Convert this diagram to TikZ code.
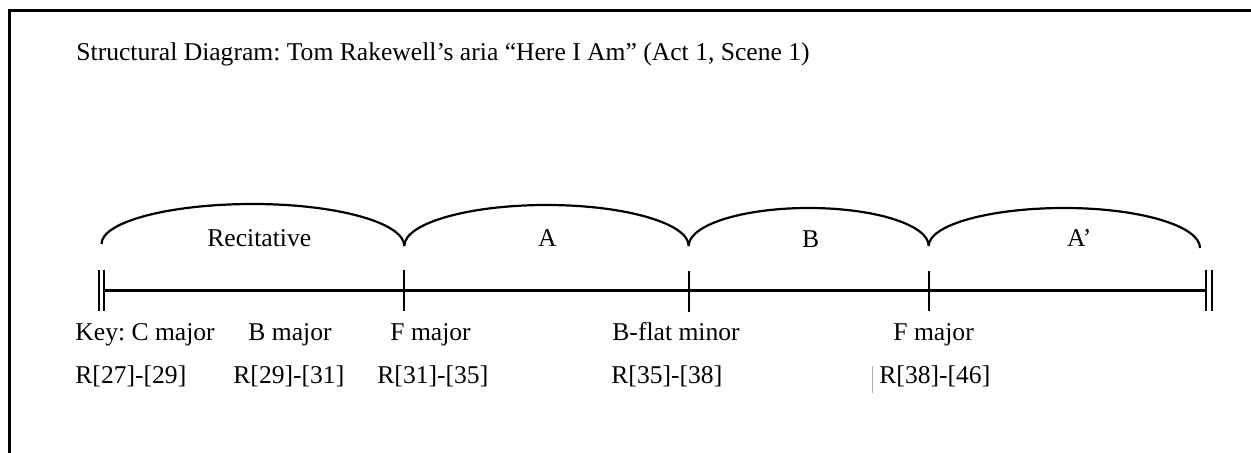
\documentclass[tikz,border=0pt]{standalone}
\usepackage{fontspec}
\setmainfont{Liberation Serif}
\frenchspacing
\begin{document}
\begin{tikzpicture}[x=0.5pt,y=-0.5pt,
  frame/.style={line width=1.4pt},
  rule/.style={line width=1.1pt},
  brace/.style={line width=1.1pt},
  lbl/.style={inner sep=0pt,anchor=base west,font=\fontsize{12.8}{15}\selectfont}]
\useasboundingbox (0,0) rectangle (1251,453);

% frame (top and left edges)
\draw[frame] (9.3,453) -- (9.3,10.7) -- (1251,10.7);

% title
\node[lbl] (title) at (76,61) {Structural Diagram: Tom Rakewell’s aria “Here I Am” (Act 1, Scene 1)};

% time line with section marks
\coordinate (s0) at (104,290.5);
\coordinate (s1) at (404.3,290.5);
\coordinate (s2) at (688.7,290.5);
\coordinate (s3) at (928.7,290.5);
\coordinate (s4) at (1206,290.5);
\draw[rule] (s0) -- (s1) -- (s2) -- (s3) -- (s4);
\draw[rule] (99,270) -- (99,311) (104,270) -- (104,311);
\draw[rule] (1206,270) -- (1206,311.5) (1212,270) -- (1212,311.5);
\draw[rule] (404.3,270) -- (404.3,311);
\draw[rule] (688.7,271.5) -- (688.7,312.5);
\draw[rule] (928.7,271) -- (928.7,311);

% section arcs
\coordinate (a0) at (101.5,244);
\coordinate (a1) at (404.3,246);
\coordinate (a2) at (688.7,246);
\coordinate (a3) at (928.7,246);
\coordinate (a4) at (1200,248);
\draw[brace] (a0) .. controls (101.5,221.9) and (169.3,204) .. (252.9,204)
                  .. controls (336.5,204) and (404.3,222.8) .. (a1);
\draw[brace] (a1) .. controls (404.3,223.4) and (468,205) .. (546.5,205)
                  .. controls (625,205) and (688.7,223.4) .. (a2);
\draw[brace] (a2) .. controls (688.7,225) and (742.4,208) .. (808.7,208)
                  .. controls (875,208) and (928.7,225) .. (a3);
\draw[brace] (a3) .. controls (928.7,225) and (989.5,208) .. (1064.4,208)
                  .. controls (1139.3,208) and (1200,225.9) .. (a4);

% section names
\node[lbl] (rec) at (207,247) {Recitative};
\node[lbl] (secA) at (537.7,247) {A};
\node[lbl] (secB) at (801.7,247.5) {B};
\node[lbl] (secA2) at (1066.7,247) {A’};

% keys
\node[lbl] (k1) at (75,341) {Key: C major};
\node[lbl] (k2) at (248,341) {B major};
\node[lbl] (k3) at (390,341) {F major};
\node[lbl] (k4) at (612,341) {B-flat minor};
\node[lbl] (k5) at (893,341) {F major};

% rehearsal numbers
\node[lbl] (r1) at (75,384) {R[27]-[29]};
\node[lbl] (r2) at (233,384) {R[29]-[31]};
\node[lbl] (r3) at (377,384) {R[31]-[35]};
\node[lbl] (r4) at (611,384) {R[35]-[38]};
\node[lbl] (r5) at (879,384) {R[38]-[46]};
\draw[gray!60,line width=0.5pt] (872.7,366) -- (872.7,393);
\end{tikzpicture}
\end{document}
